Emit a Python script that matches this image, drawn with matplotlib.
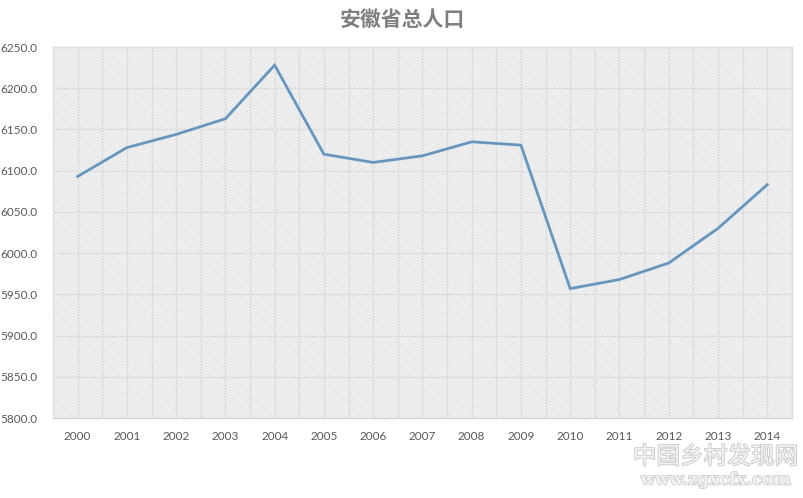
import matplotlib
matplotlib.use("Agg")
import matplotlib.pyplot as plt
import matplotlib.patheffects as pe
from matplotlib.patches import Rectangle
from matplotlib.ticker import MultipleLocator, FormatStrFormatter

plt.rcParams['font.family'] = ['Lato', 'Noto Sans CJK SC', 'DejaVu Sans']
plt.rcParams['hatch.color'] = '#d2d2d2'
plt.rcParams['hatch.linewidth'] = 0.55

title = "安徽省总人口"
years = ["2000", "2001", "2002", "2003", "2004", "2005", "2006", "2007",
         "2008", "2009", "2010", "2011", "2012", "2013", "2014"]
population = [6093, 6128, 6144, 6163, 6228, 6120, 6110, 6118,
              6135, 6131, 5957, 5968, 5988, 6030, 6083]
y_min, y_max, y_step = 5800, 6250, 50

fig = plt.figure(figsize=(8.04, 4.98), dpi=100)
ax = fig.add_axes([0.0659, 0.1606, 0.919, 0.745])

x = list(range(len(years)))
ax.set_xlim(-0.5, len(years) - 0.5)
ax.set_ylim(y_min, y_max)

# hatched plot-area background
ax.add_patch(Rectangle((0, 0), 1, 1, transform=ax.transAxes, facecolor='white',
                       edgecolor='#d2d2d2', hatch='\\' * 12, linewidth=0, zorder=0))

# gridlines
ax.yaxis.set_major_locator(MultipleLocator(y_step))
ax.yaxis.set_major_formatter(FormatStrFormatter('%.1f'))
ax.set_xticks(x)
ax.set_xticklabels(years)
ax.xaxis.set_minor_locator(MultipleLocator(0.5))
ax.grid(True, which='major', axis='both', color='#dedede', linewidth=1.0, zorder=1)
ax.grid(True, which='minor', axis='x', color='#dedede', linewidth=1.0, zorder=1)
ax.set_axisbelow(True)

ax.plot(x, population, color='#6a93b8', linewidth=1.9, zorder=3,
        solid_joinstyle='miter',
        path_effects=[pe.Stroke(linewidth=3.0, foreground='#d6e8f5'), pe.Normal()])

for s in ['left', 'right', 'top']:
    ax.spines[s].set_color('#dedede')
    ax.spines[s].set_linewidth(1.0)
ax.spines['bottom'].set_color('#d0d0d0')
ax.tick_params(axis='both', which='both', length=0, labelsize=8.5, labelcolor='#595959')
ax.tick_params(axis='y', pad=11)
ax.tick_params(axis='x', pad=9)

fig.text(0.5, 0.962, title, ha='center', va='center', fontsize=15,
         fontweight='bold', color='#7f7f7f', family=['Noto Sans CJK SC'])

# watermark
fig.text(0.89, 0.082, "中国乡村发现网", ha='center', va='center', fontsize=17,
         color='#f2f2f2', family=['Noto Sans CJK SC'],
         path_effects=[pe.withStroke(linewidth=1.2, foreground='#c8c8c8')])
fig.text(0.89, 0.036, "www.zgxcfx.com", ha='center', va='center', fontsize=12,
         color='#f2f2f2', family=['DejaVu Serif'], fontweight='bold',
         path_effects=[pe.withStroke(linewidth=1.0, foreground='#c8c8c8')])

fig.savefig("out.png", dpi=100)
